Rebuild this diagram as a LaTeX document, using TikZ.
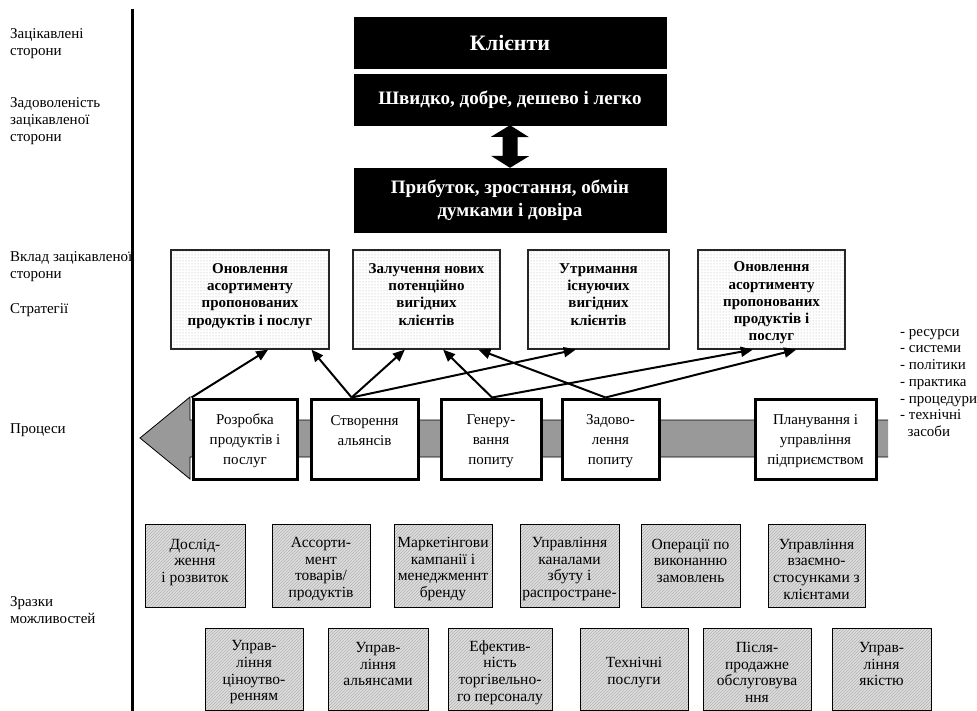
\documentclass[tikz,border=0pt]{standalone}
\usepackage{fontspec}
\setmainfont{Liberation Serif}
\usetikzlibrary{arrows.meta,patterns,calc}
\definecolor{bandgray}{HTML}{999999}
\definecolor{capgray}{HTML}{DEDEDE}
\begin{document}
\begin{tikzpicture}[x=1pt,y=-1pt,
  lblbox/.style={anchor=west, align=left, inner sep=0pt, font=\fontsize{15}{17}\selectfont},
  blkbox/.style={draw=black, fill=black, text=white, align=center, inner sep=0pt,
    minimum width=312pt, font=\bfseries\fontsize{19}{23}\selectfont},
  stratbox/.style={draw=black!85, line width=1.2pt, preaction={fill=white}, pattern=dots,
    pattern color=gray!65, inner sep=0pt, minimum height=99pt},
  strattxt/.style={align=center, inner sep=0pt, yshift=-3.5pt,
    font=\bfseries\fontsize{15}{17.3}\selectfont},
  procbox/.style={draw=black, line width=3pt, fill=white, inner sep=0pt, minimum height=80pt},
  proctxt/.style={align=center, inner sep=0pt, yshift=-2pt, font=\fontsize{15}{20}\selectfont},
  capbox/.style={draw=black, line width=0.8pt, preaction={fill=capgray}, pattern=north east lines,
    pattern color=gray!60, inner sep=0pt},
  captxt/.style={align=center, inner sep=0pt, yshift=-3.5pt, font=\fontsize{15.5}{16.7}\selectfont},
  linkarrow/.style={-{Triangle[length=12pt,width=10pt]}, line width=2pt}
]
\useasboundingbox (0,0) rectangle (977,711);

% vertical separator
\coordinate (vtop) at (132,9);
\coordinate (vbot) at (132,711);
\draw[line width=3pt] (vtop) -- (vbot);

% left labels
\node[lblbox] (l1) at (10,43.5) {Зацікавлені\\сторони};
\node[lblbox] (l2) at (10,121) {Задоволеність\\зацікавленої\\сторони};
\node[lblbox] (l3) at (10,267) {Вклад зацікавленої\\сторони};
\node[lblbox] (l4) at (10,310) {Стратегії};
\node[lblbox] (l5) at (10,430) {Процеси};
\node[lblbox] (l6) at (10,610) {Зразки\\можливостей};

% black boxes
\node[blkbox, minimum height=51pt, font=\bfseries\fontsize{22}{26}\selectfont] (clients) at (510,42.5) {Клієнти};
\node[blkbox, minimum height=51pt] (swift) at (510,99.5) {Швидко, добре, дешево і легко};
\node[blkbox, minimum height=64pt] (profit) at (510,200) {Прибуток, зростання, обмін\\думками і довіра};

% double arrow
\fill (swift.south) -- ++(19,12) -- ++(-11.5,0) -- ++(0,19) -- ++(11.5,0) -- (profit.north)
  -- ++(-19,-12) -- ++(11.5,0) -- ++(0,-19) -- ++(-11.5,0) -- cycle;

% strategies
\node[stratbox, minimum width=158pt] (s1) at (250,299.5) {};
\node[strattxt] (s1t) at (s1) {Оновлення\\асортименту\\пропонованих\\продуктів і послуг\\\mbox{}};
\node[stratbox, minimum width=147pt] (s2) at (426.5,299.5) {};
\node[strattxt] (s2t) at (s2) {Залучення нових\\потенційно\\вигідних\\клієнтів\\\mbox{}};
\node[stratbox, minimum width=141pt] (s3) at (598.5,299.5) {};
\node[strattxt] (s3t) at (s3) {Утримання\\існуючих\\вигідних\\клієнтів\\\mbox{}};
\node[stratbox, minimum width=147pt] (s4) at (771.5,299.5) {};
\node[strattxt] (s4t) at (s4) {Оновлення\\асортименту\\пропонованих\\продуктів і\\послуг};

% resources list
\node[anchor=north west, align=left, inner sep=0pt, font=\fontsize{15}{16.7}\selectfont] (res) at (900,329)
  {- ресурси\\- системи\\- політики\\- практика\\- процедури\\- технічні\\\ \ засоби};

% process band
\fill[bandgray] (888,420) -- (190,420) -- (190,397) -- (140,438) -- (190,479) -- (190,457) -- (888,457) -- cycle;
\draw[line width=0.8pt] (888,420) -- (190,420) -- (190,397) -- (140,438) -- (190,479) -- (190,457) -- (888,457);

% processes
\node[procbox, minimum width=104pt] (p1) at (245,439) {};
\node[proctxt] (p1t) at (p1) {Розробка\\продуктів і\\послуг};
\node[procbox, minimum width=107pt] (p2) at (364.5,439) {};
\node[proctxt] (p2t) at (p2) {Створення\\альянсів\\\mbox{}};
\node[procbox, minimum width=100pt] (p3) at (491,439) {};
\node[proctxt] (p3t) at (p3) {Генеру-\\вання\\попиту};
\node[procbox, minimum width=97pt] (p4) at (610.5,439) {};
\node[proctxt] (p4t) at (p4) {Задово-\\лення\\попиту};
\node[procbox, minimum width=121pt] (p5) at (815.5,439) {};
\node[proctxt] (p5t) at (p5) {Планування і\\управління\\підприємством};

% links
\draw[linkarrow] (p1.north west) -- ($(s1.south west)!0.614!(s1.south east)$);
\draw[linkarrow] ($(p2.north west)!0.383!(p2.north east)$) -- ($(s1.south west)!0.886!(s1.south east)$);
\draw[linkarrow] ($(p2.north west)!0.383!(p2.north east)$) -- ($(s2.south west)!0.354!(s2.south east)$);
\draw[linkarrow] ($(p2.north west)!0.383!(p2.north east)$) -- ($(s3.south west)!0.34!(s3.south east)$);
\draw[linkarrow] ($(p3.north west)!0.51!(p3.north east)$) -- ($(s2.south west)!0.612!(s2.south east)$);
\draw[linkarrow] ($(p3.north west)!0.51!(p3.north east)$) -- ($(s4.south west)!0.374!(s4.south east)$);
\draw[linkarrow] ($(p4.north west)!0.45!(p4.north east)$) -- ($(s2.south west)!0.85!(s2.south east)$);
\draw[linkarrow] ($(p4.north west)!0.45!(p4.north east)$) -- ($(s4.south west)!0.667!(s4.south east)$);

% capabilities row 1
\node[capbox, minimum width=100pt, minimum height=83pt] (c1) at (195,565.5) {};
\node[captxt] (c1t) at (c1) {Дослід-\\ження\\і розвиток\\\mbox{}};
\node[capbox, minimum width=98pt, minimum height=83pt] (c2) at (321,565.5) {};
\node[captxt] (c2t) at (c2) {Ассорти-\\мент\\товарів/\\продуктів};
\node[capbox, minimum width=98pt, minimum height=83pt] (c3) at (443,565.5) {};
\node[captxt] (c3t) at (c3) {Маркетінгови\\кампанії і\\менеджменнт\\бренду};
\node[capbox, minimum width=99pt, minimum height=83pt] (c4) at (569.5,565.5) {};
\node[captxt] (c4t) at (c4) {Управління\\каналами\\збуту і\\распростране-};
\node[capbox, minimum width=99pt, minimum height=83pt] (c5) at (690.5,565.5) {};
\node[captxt] (c5t) at (c5) {Операції по\\виконанню\\замовлень\\\mbox{}};
\node[capbox, minimum width=97pt, minimum height=83pt] (c6) at (816.5,565.5) {};
\node[captxt] (c6t) at (c6) {Управління\\взаємно-\\стосунками з\\клієнтами};

% capabilities row 2
\node[capbox, minimum width=98pt, minimum height=82pt] (d1) at (254,669) {};
\node[captxt] (d1t) at (d1) {Управ-\\ління\\ціноутво-\\ренням};
\node[capbox, minimum width=100pt, minimum height=82pt] (d2) at (378,669) {};
\node[captxt] (d2t) at (d2) {Управ-\\ління\\альянсами\\\mbox{}};
\node[capbox, minimum width=104pt, minimum height=82pt] (d3) at (500,669) {};
\node[captxt] (d3t) at (d3) {Ефектив-\\ність\\торгівельно-\\го персоналу};
\node[capbox, minimum width=108pt, minimum height=82pt] (d4) at (634,669) {};
\node[captxt] (d4t) at (d4) {Технічні\\послуги};
\node[capbox, minimum width=108pt, minimum height=82pt] (d5) at (757,669) {};
\node[captxt] (d5t) at (d5) {Після-\\продажне\\обслуговува\\ння};
\node[capbox, minimum width=99pt, minimum height=82pt] (d6) at (881.5,669) {};
\node[captxt] (d6t) at (d6) {Управ-\\ління\\якістю\\\mbox{}};
\end{tikzpicture}
\end{document}
